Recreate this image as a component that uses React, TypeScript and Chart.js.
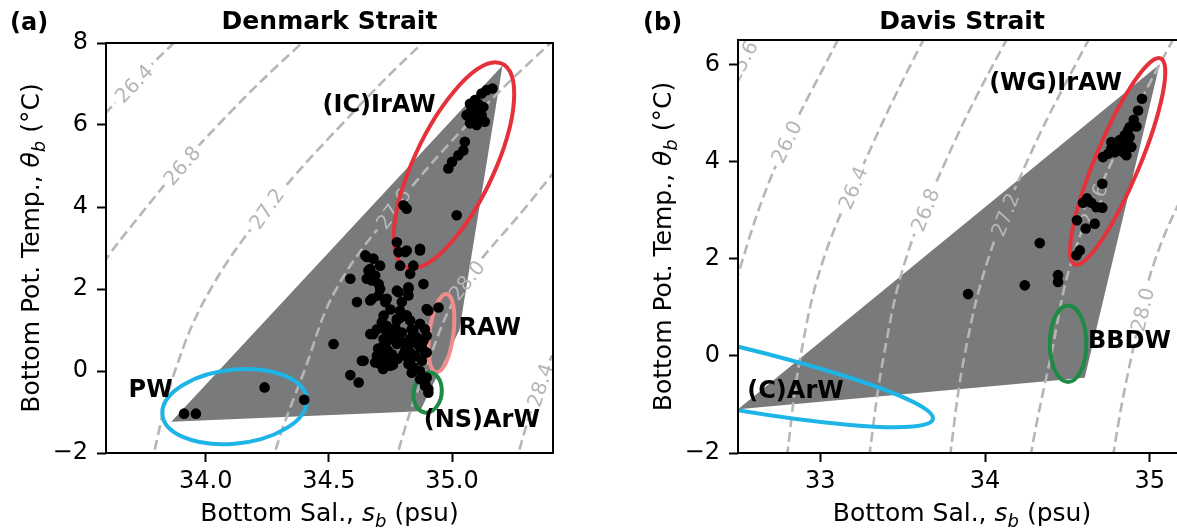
import React, { useEffect, useRef } from "react";
import { Chart, registerables } from "chart.js";

Chart.register(...registerables);

const FONT = '"DejaVu Sans", "Noto Sans", sans-serif';

// ---------------- isopycnals (sigma-theta) ----------------
const isoLevels = ["25.6", "26.0", "26.4", "26.8", "27.2", "27.6", "28.0", "28.4"];
const isoTheta = [-3, -2, 0, 2, 4, 6, 8, 9];
const iso256Sal = [31.79, 31.82, 31.9, 32.03, 32.24, 32.52, 32.84, 33.04];
const iso260Sal = [32.27, 32.3, 32.38, 32.53, 32.74, 33.03, 33.35, 33.55];
const iso264Sal = [32.77, 32.8, 32.88, 33.02, 33.27, 33.55, 33.87, 34.07];
const iso268Sal = [33.27, 33.3, 33.385, 33.52, 33.76, 34.05, 34.39, 34.59];
const iso272Sal = [33.76, 33.79, 33.875, 34.02, 34.255, 34.55, 34.88, 35.08];
const iso276Sal = [34.25, 34.28, 34.4, 34.53, 34.77, 35.06, 35.4, 35.6];
const iso280Sal = [34.75, 34.78, 34.89, 35.035, 35.3, 35.58, 35.92, 36.12];
const iso284Sal = [35.24, 35.27, 35.38, 35.54, 35.8, 36.08, 36.42, 36.62];
const isoSal = [iso256Sal, iso260Sal, iso264Sal, iso268Sal, iso272Sal, iso276Sal, iso280Sal, iso284Sal];

// ---------------- (a) Denmark Strait ----------------
const denmarkSalTicks = [34.0, 34.5, 35.0];
const denmarkThetaTicks = [-2, 0, 2, 4, 6, 8];
const denmarkHullSal = [35.205, 35.03, 34.87, 33.86, 35.205];
const denmarkHullTheta = [7.45, 1.0, -0.98, -1.24, 7.45];
const denmarkStations = [
  [35.164, 6.89], [35.14, 6.85], [35.12, 6.77], [35.093, 6.61], [35.073, 6.52], [35.106, 6.52],
  [35.127, 6.44], [35.079, 6.36], [35.1, 6.28], [35.12, 6.24], [35.059, 6.24], [35.079, 6.16],
  [35.106, 6.12], [35.133, 6.08], [35.073, 6.04], [35.1, 6.0], [35.052, 5.59], [35.046, 5.38],
  [35.026, 5.26], [35.0, 5.1], [34.985, 4.94], [35.019, 3.8], [34.803, 4.04], [34.816, 3.96],
  [34.776, 3.14], [34.783, 2.9], [34.81, 2.9], [34.87, 2.98], [34.816, 2.94], [34.789, 2.57],
  [34.843, 2.57], [34.83, 2.37], [34.654, 2.78], [34.681, 2.74], [34.708, 2.57], [34.668, 2.49],
  [34.688, 2.33], [34.654, 2.25], [34.587, 2.25], [34.702, 2.12], [34.884, 2.12], [34.708, 2.0],
  [34.776, 1.96], [34.823, 2.0], [34.675, 1.76], [34.614, 1.68], [34.702, 1.84], [34.735, 1.76],
  [34.783, 1.92], [34.823, 2.04], [34.796, 1.68], [34.729, 1.68], [34.668, 1.72], [34.823, 1.84],
  [34.897, 1.51], [34.945, 1.55], [34.519, 0.66], [34.668, 0.9], [34.695, 1.02], [34.735, 1.1],
  [34.776, 1.27], [34.816, 1.35], [34.749, 0.86], [34.796, 0.94], [34.836, 1.02], [34.857, 0.82],
  [34.89, 1.02], [34.897, 0.86], [34.722, 0.62], [34.776, 0.66], [34.823, 0.62], [34.877, 0.58],
  [34.897, 0.45], [34.695, 0.37], [34.749, 0.37], [34.803, 0.41], [34.85, 0.37], [34.634, 0.25],
  [34.708, 0.17], [34.749, 0.13], [34.823, 0.17], [34.877, 0.25], [34.836, -0.04], [34.87, -0.2],
  [34.89, -0.36], [34.904, -0.44], [34.904, -0.53], [34.587, -0.1], [34.621, -0.28], [34.722, 1.35],
  [34.789, 1.47], [34.816, 1.35], [34.904, 1.47], [34.715, 1.19], [34.776, 1.23], [34.83, 1.23],
  [34.87, 1.15], [34.681, 0.9], [34.742, 0.98], [34.843, 0.98], [34.722, 0.78], [34.769, 0.82],
  [34.83, 0.78], [34.884, 0.74], [34.729, 0.58], [34.87, 0.58], [34.708, 0.37], [34.756, 0.41],
  [34.81, 0.37], [34.891, 0.45], [34.641, 0.25], [34.688, 0.21], [34.735, 0.21], [34.83, 0.25],
  [34.843, 0.09], [34.87, 0.0], [34.897, -0.16], [34.891, -0.32], [34.648, 2.82], [34.661, 2.45],
  [34.675, 2.21], [34.87, 2.94], [34.75, 1.5], [34.77, 1.05], [34.8, 0.7], [34.76, 0.9],
  [34.79, 1.3], [34.74, 0.5], [34.81, 0.5], [34.78, 0.3], [34.73, 1.0], [34.84, 0.85],
  [34.86, 0.65], [34.83, 0.45], [34.74, 0.75], [34.7, 0.55], [34.72, 0.05], [34.76, 0.15],
  [33.912, -1.04], [33.96, -1.04], [34.239, -0.4], [34.4, -0.7],
];
const denmarkLabelLevels = ["26.4", "26.8", "27.2", "27.6", "28.0", "28.4"];
const denmarkLabelTheta = [7.0, 5.0, 3.95, 3.95, 2.2, -0.35];
const denmarkEllipses = [
  { s: 35.008, t: 5.017, uS: 0.2445, uT: 1.748, vS: 0, vT: -1.802, color: "#e5323a" },
  { s: 34.957, t: 0.922, uS: 0.0526, uT: 0.347, vS: 0, vT: -0.892, color: "#f08c8c" },
  { s: 34.901, t: -0.526, uS: 0.0575, uT: 0.049, vS: 0, vT: -0.487, color: "#1e8a46" },
  { s: 34.117, t: -0.87, uS: 0.2935, uT: 0.147, vS: 0, vT: -0.905, color: "#1db4e6" },
];
const denmarkNames = ["(IC)IrAW", "PW", "RAW", "(NS)ArW"];
const denmarkNameSal = [34.704, 33.776, 35.026, 35.121];
const denmarkNameTheta = [6.46, -0.48, 1.02, -1.22];
const denmarkNameAlign = ["center", "center", "left", "center"];

// ---------------- (b) Davis Strait ----------------
const davisSalTicks = [33, 34, 35];
const davisThetaTicks = [-2, 0, 2, 4, 6];
const davisHullSal = [35.06, 34.605, 32.5, 35.06];
const davisHullTheta = [6.0, -0.45, -1.1, 6.0];
const davisStations = [
  [34.953, 5.29], [34.929, 5.05], [34.903, 4.86], [34.919, 4.72], [34.868, 4.64], [34.848, 4.54],
  [34.878, 4.5], [34.818, 4.44], [34.858, 4.4], [34.798, 4.33], [34.828, 4.3], [34.767, 4.27],
  [34.787, 4.19], [34.747, 4.16], [34.716, 4.09], [34.858, 4.13], [34.888, 4.3], [34.838, 4.19],
  [34.767, 4.4], [34.878, 4.71], [34.712, 3.54], [34.619, 3.24], [34.645, 3.15], [34.595, 3.15],
  [34.676, 3.06], [34.712, 3.05], [34.558, 2.79], [34.666, 2.72], [34.611, 2.62], [34.575, 2.17],
  [34.555, 2.07], [34.332, 2.32], [34.241, 1.45], [34.443, 1.66], [34.443, 1.52], [33.897, 1.27],
];
const davisLabelLevels = ["25.6", "26.0", "26.4", "26.8", "27.2", "27.6", "28.0"];
const davisLabelTheta = [6.05, 4.4, 3.45, 3.0, 2.9, 3.1, 0.95];
const davisEllipses = [
  { s: 34.805, t: 4.003, uS: 0.261, uT: 2.12, vS: 0.1245, vT: -0.175, color: "#e5323a" },
  { s: 34.504, t: 0.25, uS: 0.111, uT: 0, vS: 0, vT: 0.788, color: "#1e8a46" },
  { s: 31.964, t: -0.093, uS: 1.72, uT: -1.194, vS: 0, vT: 0.6875, color: "#1db4e6" },
];
const davisNames = ["(WG)IrAW", "BBDW", "(C)ArW"];
const davisNameSal = [34.428, 34.625, 32.849];
const davisNameTheta = [5.6, 0.28, -0.745];
const davisNameAlign = ["center", "left", "center"];

const HULL_COLOR = "#787a7c";
const ISO_COLOR = "#b6b6b6";

const panels = [
  {
    key: "a", letter: "(a)", title: "Denmark Strait",
    canvasLeft: 0, canvasW: 580, yAxisW: 106, padTop: 43, padRight: 27, xAxisH: 77,
    xMin: 33.595, xMax: 35.41, yMin: -2, yMax: 8, xTicks: denmarkSalTicks, yTicks: denmarkThetaTicks, xDec: 1,
    hullSal: denmarkHullSal, hullTheta: denmarkHullTheta, stations: denmarkStations,
    labelLevels: denmarkLabelLevels, labelTheta: denmarkLabelTheta, ellipses: denmarkEllipses,
    names: denmarkNames, nameSal: denmarkNameSal, nameTheta: denmarkNameTheta, nameAlign: denmarkNameAlign,
  },
  {
    key: "b", letter: "(b)", title: "Davis Strait",
    canvasLeft: 590, canvasW: 610, yAxisW: 148, padTop: 40, padRight: 14, xAxisH: 77,
    xMin: 32.5, xMax: 35.22, yMin: -2, yMax: 6.5, xTicks: davisSalTicks, yTicks: davisThetaTicks, xDec: 0,
    hullSal: davisHullSal, hullTheta: davisHullTheta, stations: davisStations,
    labelLevels: davisLabelLevels, labelTheta: davisLabelTheta, ellipses: davisEllipses,
    names: davisNames, nameSal: davisNameSal, nameTheta: davisNameTheta, nameAlign: davisNameAlign,
  },
];

function labelGeom(chart: any, levelIdx: number, t: number) {
  const xs = chart.scales.x, ys = chart.scales.y;
  const sal = isoSal[levelIdx];
  let i = 0;
  while (i < isoTheta.length - 2 && isoTheta[i + 1] < t) i++;
  const f = (t - isoTheta[i]) / (isoTheta[i + 1] - isoTheta[i]);
  const s = sal[i] + f * (sal[i + 1] - sal[i]);
  const x1 = xs.getPixelForValue(sal[i]), y1 = ys.getPixelForValue(isoTheta[i]);
  const x2 = xs.getPixelForValue(sal[i + 1]), y2 = ys.getPixelForValue(isoTheta[i + 1]);
  return { x: xs.getPixelForValue(s), y: ys.getPixelForValue(t), ang: Math.atan2(y2 - y1, x2 - x1) };
}

function drawRich(ctx: any, parts: any[], x: number, y: number, size: number, vertical: boolean) {
  const fonts = parts.map((p) => `${p.italic ? "italic " : ""}${p.sub ? Math.round(size * 0.7) : size}px ${FONT}`);
  const widths = parts.map((p, i) => { ctx.font = fonts[i]; return ctx.measureText(p.text).width; });
  const total = widths.reduce((a, b) => a + b, 0);
  ctx.save();
  ctx.translate(x, y);
  if (vertical) ctx.rotate(-Math.PI / 2);
  ctx.fillStyle = "#000";
  ctx.textAlign = "left";
  ctx.textBaseline = "alphabetic";
  let cx = -total / 2;
  parts.forEach((p, i) => {
    ctx.font = fonts[i];
    ctx.fillText(p.text, cx, p.sub ? size * 0.24 : 0);
    cx += widths[i];
  });
  ctx.restore();
}

function makePlugin(p: any) {
  const isoFont = `20px ${FONT}`;
  return {
    id: "oceanDecor" + p.key,
    beforeDatasetDraw(chart: any, args: any) {
      const ds = chart.data.datasets[args.index];
      const ctx = chart.ctx;
      const area = chart.chartArea;
      if (ds.label.startsWith("iso-")) {
        const lvl = ds.label.slice(4);
        const k = isoLevels.indexOf(lvl);
        ctx.save();
        ctx.beginPath();
        ctx.rect(0, 0, chart.width, chart.height);
        ctx.font = isoFont;
        p.labelLevels.forEach((l: string, j: number) => {
          if (l !== lvl) return;
          const g = labelGeom(chart, k, p.labelTheta[j]);
          const w = ctx.measureText(l).width / 2 + 4, h = 11;
          const c = Math.cos(g.ang), s = Math.sin(g.ang);
          const pts = [[-w, -h], [w, -h], [w, h], [-w, h]].map(([a, b]) => [g.x + a * c - b * s, g.y + a * s + b * c]);
          ctx.moveTo(pts[0][0], pts[0][1]);
          for (let q = 1; q < 4; q++) ctx.lineTo(pts[q][0], pts[q][1]);
          ctx.closePath();
        });
        ctx.clip("evenodd");
      }
      if (ds.label === "stations") {
        ctx.save();
        ctx.beginPath();
        ctx.rect(area.left, area.top, area.right - area.left, area.bottom - area.top);
        ctx.clip();
        // contour labels
        ctx.font = isoFont;
        ctx.fillStyle = ISO_COLOR;
        ctx.textAlign = "center";
        ctx.textBaseline = "middle";
        p.labelLevels.forEach((l: string, j: number) => {
          const g = labelGeom(chart, isoLevels.indexOf(l), p.labelTheta[j]);
          ctx.save();
          ctx.translate(g.x, g.y);
          ctx.rotate(g.ang);
          ctx.fillText(l, 0, 1);
          ctx.restore();
        });
        // water-mass ellipses
        const xs = chart.scales.x, ys = chart.scales.y;
        p.ellipses.forEach((e: any) => {
          const cx = xs.getPixelForValue(e.s), cy = ys.getPixelForValue(e.t);
          const ux = xs.getPixelForValue(e.s + e.uS) - cx, uy = ys.getPixelForValue(e.t + e.uT) - cy;
          const vx = xs.getPixelForValue(e.s + e.vS) - cx, vy = ys.getPixelForValue(e.t + e.vT) - cy;
          ctx.beginPath();
          ctx.save();
          ctx.transform(ux, uy, vx, vy, cx, cy);
          ctx.arc(0, 0, 1, 0, Math.PI * 2);
          ctx.restore();
          ctx.lineWidth = 4;
          ctx.strokeStyle = e.color;
          ctx.stroke();
        });
        ctx.restore();
      }
    },
    afterDatasetDraw(chart: any, args: any) {
      const ds = chart.data.datasets[args.index];
      if (ds.label.startsWith("iso-")) chart.ctx.restore();
    },
    afterDatasetsDraw(chart: any) {
      const ctx = chart.ctx;
      const a = chart.chartArea;
      const xs = chart.scales.x, ys = chart.scales.y;
      ctx.save();
      ctx.font = `bold 24px ${FONT}`;
      ctx.fillStyle = "#000";
      ctx.textBaseline = "middle";
      p.names.forEach((n: string, i: number) => {
        ctx.textAlign = p.nameAlign[i];
        ctx.fillText(n, xs.getPixelForValue(p.nameSal[i]), ys.getPixelForValue(p.nameTheta[i]));
      });
      ctx.lineWidth = 2;
      ctx.strokeStyle = "#000";
      ctx.strokeRect(a.left, a.top, a.right - a.left, a.bottom - a.top);
      ctx.restore();
    },
    afterDraw(chart: any) {
      const ctx = chart.ctx;
      const a = chart.chartArea;
      ctx.save();
      ctx.fillStyle = "#000";
      ctx.font = `bold 25px ${FONT}`;
      ctx.textBaseline = "alphabetic";
      ctx.textAlign = "center";
      ctx.fillText(p.title, (a.left + a.right) / 2, 29);
      ctx.textAlign = "left";
      ctx.font = `bold 24px ${FONT}`;
      ctx.fillText(p.letter, p.key === "a" ? 10 : 643 - p.canvasLeft, 30);
      ctx.restore();
      drawRich(ctx, [{ text: "Bottom Sal., " }, { text: "s", italic: true }, { text: "b", italic: true, sub: true }, { text: " (psu)" }],
        (a.left + a.right) / 2, 521, 25, false);
      drawRich(ctx, [{ text: "Bottom Pot. Temp., " }, { text: "\u03b8", italic: true }, { text: "b", italic: true, sub: true }, { text: " (\u00b0C)" }],
        a.left - 67, (a.top + a.bottom) / 2, 25, true);
    },
  };
}

function buildConfig(p: any): any {
  const contourSets = isoLevels.map((lvl, k) => ({
    label: "iso-" + lvl,
    data: isoTheta.map((t, i) => ({ x: isoSal[k][i], y: t })),
    showLine: true,
    fill: false,
    borderColor: ISO_COLOR,
    borderWidth: 2.6,
    borderDash: [10, 5],
    pointRadius: 0,
    pointHoverRadius: 0,
    tension: 0.4,
    order: 3,
  }));
  const tickGrid = { display: true, drawOnChartArea: false, drawTicks: true, tickLength: 9, tickWidth: 2, tickColor: "#000" };
  return {
    type: "scatter",
    data: {
      datasets: [
        {
          label: "hull",
          data: p.hullSal.map((s: number, i: number) => ({ x: s, y: p.hullTheta[i] })),
          showLine: true,
          fill: "shape",
          backgroundColor: HULL_COLOR,
          borderColor: "rgba(0,0,0,0)",
          borderWidth: 0,
          pointRadius: 0,
          pointHoverRadius: 0,
          tension: 0,
          order: 4,
        },
        ...contourSets,
        {
          label: "stations",
          data: p.stations.map((d: number[]) => ({ x: d[0], y: d[1] })),
          showLine: false,
          pointRadius: 5.3,
          pointHoverRadius: 5.3,
          pointBackgroundColor: "#000",
          pointBorderWidth: 0,
          pointBorderColor: "#000",
          order: 0,
        },
      ],
    },
    options: {
      animation: false,
      responsive: false,
      maintainAspectRatio: false,
      events: [],
      layout: { padding: { left: 0, top: p.padTop, right: p.padRight, bottom: 0 } },
      elements: { line: { capBezierPoints: false } },
      plugins: { legend: { display: false }, tooltip: { enabled: false }, title: { display: false } },
      scales: {
        x: {
          type: "linear",
          min: p.xMin,
          max: p.xMax,
          afterBuildTicks: (s: any) => { s.ticks = p.xTicks.map((v: number) => ({ value: v })); },
          afterFit: (s: any) => { s.height = p.xAxisH; },
          ticks: {
            callback: (v: number) => v.toFixed(p.xDec),
            font: { family: FONT, size: 24 },
            color: "#000",
            padding: 5,
            maxRotation: 0,
            autoSkip: false,
          },
          grid: tickGrid,
          border: { display: false },
        },
        y: {
          type: "linear",
          min: p.yMin,
          max: p.yMax,
          afterBuildTicks: (s: any) => { s.ticks = p.yTicks.map((v: number) => ({ value: v })); },
          afterFit: (s: any) => { s.width = p.yAxisW; },
          ticks: {
            callback: (v: number) => (v < 0 ? "\u2212" + Math.abs(v) : String(v)),
            font: { family: FONT, size: 24 },
            color: "#000",
            padding: 9,
            autoSkip: false,
          },
          grid: tickGrid,
          border: { display: false },
        },
      },
    },
    plugins: [makePlugin(p)],
  };
}

function Panel({ spec }: { spec: any }) {
  const ref = useRef<HTMLCanvasElement>(null);
  useEffect(() => {
    const chart = new Chart(ref.current as HTMLCanvasElement, buildConfig(spec));
    return () => chart.destroy();
  }, [spec]);
  return (
    <canvas
      ref={ref}
      width={spec.canvasW}
      height={530}
      style={{ position: "absolute", left: spec.canvasLeft, top: 0, width: spec.canvasW, height: 530 }}
    />
  );
}

export default function App() {
  return (
    <div style={{ position: "fixed", left: 0, top: 0, width: 1177, height: 530, overflow: "hidden", background: "#fff" }}>
      {panels.map((p) => (
        <Panel key={p.key} spec={p} />
      ))}
    </div>
  );
}
